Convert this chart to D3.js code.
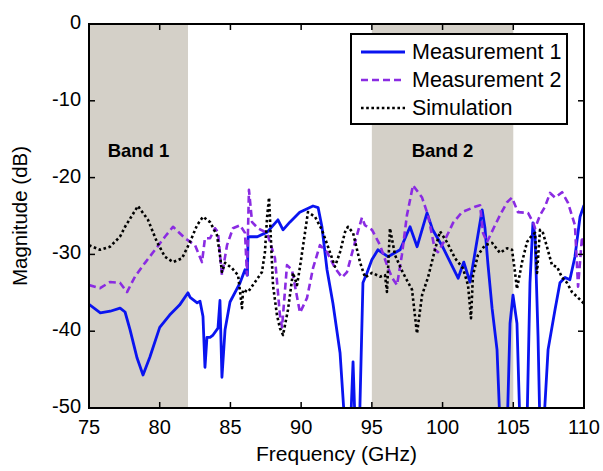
<!DOCTYPE html>
<html>
<head>
<meta charset="utf-8">
<script src="https://cdn.jsdelivr.net/npm/d3@7"></script>
<style>
  body { margin: 0; background: #fff; }
  text { font-family: Arial, "Liberation Sans", sans-serif; fill: #000; }
</style>
</head>
<body>
<div id="chart"><svg></svg></div>
<script>
// x ticks / y ticks
var xTicks = [75, 80, 85, 90, 95, 100, 105, 110];
var yTicks = [0, -10, -20, -30, -40, -50];

// shaded bands (GHz)
var bands = [[75, 82], [95, 105]];
var bandLabels = ['Band 1', 'Band 2'];

var seriesNames = ['Measurement 1', 'Measurement 2', 'Simulation'];

// [GHz, dB]
var measurement1 = [
  [75.0, -36.5], [75.8, -37.6], [76.5, -37.4], [77.2, -37.0], [77.55, -37.5], [77.9, -39.8],
  [78.4, -43.5], [78.82, -45.7], [79.3, -43.4], [80.0, -39.5], [80.7, -37.9], [81.4, -36.6],
  [82.0, -35.0], [82.15, -35.6], [82.65, -36.3], [82.85, -36.1], [83.06, -38.1], [83.2, -44.7],
  [83.34, -40.8], [83.56, -40.8], [83.77, -40.5], [84.12, -39.6], [84.26, -36.0], [84.4, -46.0],
  [84.62, -39.8], [84.97, -36.2], [85.68, -33.7], [86.03, -32.0], [86.2, -32.7], [86.25, -27.7],
  [86.9, -27.7], [87.6, -27.1], [88.36, -25.5], [88.72, -26.8], [89.2, -25.8], [89.9, -24.5],
  [90.84, -23.7], [91.2, -23.9], [91.47, -26.4], [91.83, -32.0], [92.25, -36.4], [92.75, -42.8],
  [93.15, -54], [93.5, -52], [93.67, -44.0], [93.85, -54], [94.1, -54], [94.37, -33.7],
  [94.66, -32.4], [95.0, -30.7], [95.43, -29.4], [96.14, -30.3], [97.0, -29.4], [97.7, -26.4],
  [98.2, -29.0], [98.9, -24.6], [99.3, -26.8], [100.0, -29.0], [101.1, -33.1], [101.5, -31.0],
  [101.94, -33.6], [102.3, -29.7], [102.8, -24.2], [103.0, -26.6], [103.2, -31.1], [103.5, -37.0],
  [103.85, -42.4], [104.1, -54], [104.55, -54], [104.77, -39.0], [104.98, -35.3], [105.26, -39.0],
  [105.5, -54], [105.95, -54], [106.18, -33.7], [106.39, -25.9], [106.54, -27.7], [106.75, -40.7],
  [106.9, -54], [107.1, -54], [107.46, -42.4], [107.95, -37.2], [108.3, -33.7], [108.66, -33.0],
  [109.0, -33.3], [109.36, -30.3], [109.72, -25.1], [110.0, -23.6]
];

var measurement2 = [
  [75.0, -34.0], [75.78, -34.4], [76.48, -33.6], [77.19, -33.7], [77.69, -34.9], [78.25, -32.9],
  [78.96, -31.1], [79.67, -29.4], [80.37, -27.7], [80.94, -26.4], [81.79, -27.9], [82.5, -28.8],
  [82.99, -31.0], [83.2, -27.9], [83.56, -27.9], [83.91, -26.6], [84.12, -27.1], [84.4, -32.7],
  [84.76, -28.8], [85.18, -26.6], [85.68, -26.2], [86.03, -27.2], [86.17, -32.7], [86.31, -21.6],
  [86.53, -25.8], [86.95, -26.6], [87.59, -27.2], [88.15, -30.5], [88.5, -37.9], [88.65, -39.5],
  [89.0, -31.4], [89.35, -32.0], [89.92, -37.6], [90.41, -35.7], [90.84, -31.8], [91.33, -28.8],
  [91.83, -29.7], [92.4, -31.8], [92.89, -33.0], [93.24, -32.3], [93.81, -28.4], [94.3, -25.2],
  [94.51, -26.2], [95.01, -26.8], [95.58, -28.8], [96.07, -31.4], [96.42, -33.0], [96.78, -34.0],
  [97.13, -30.0], [97.48, -24.9], [97.91, -21.0], [98.55, -22.6], [98.97, -24.9], [99.46, -29.4],
  [99.68, -29.7], [100.17, -28.1], [100.74, -25.9], [101.37, -24.5], [102.29, -23.8], [102.65, -23.6],
  [102.86, -27.2], [103.14, -28.4], [103.71, -26.2], [104.06, -24.9], [104.56, -23.2], [104.91, -22.6],
  [105.33, -24.5], [106.04, -24.6], [106.39, -25.8], [106.54, -26.6], [106.89, -24.9], [107.24, -23.8],
  [107.6, -22.0], [107.95, -22.6], [108.45, -21.9], [108.87, -23.3], [109.36, -26.2], [109.58, -34.2],
  [109.86, -27.7], [110.0, -29.0]
];

var simulation = [
  [75.0, -28.8], [75.78, -29.4], [76.48, -29.0], [77.19, -27.7], [77.55, -26.4], [78.46, -23.7],
  [79.17, -25.5], [79.81, -28.4], [80.37, -30.3], [80.94, -31.0], [81.58, -30.5], [82.14, -28.4],
  [82.64, -26.2], [83.06, -25.1], [83.56, -25.8], [84.05, -27.5], [84.26, -30.1], [84.4, -32.3],
  [84.62, -31.1], [85.11, -31.8], [85.54, -32.7], [85.82, -37.0], [85.89, -34.6], [86.24, -34.9],
  [86.74, -33.6], [87.23, -32.3], [87.44, -29.7], [87.59, -25.2], [87.73, -22.6], [87.87, -28.4],
  [88.01, -34.0], [88.29, -37.9], [88.5, -39.6], [88.72, -40.5], [89.07, -37.2], [89.42, -32.4],
  [89.71, -34.0], [89.92, -31.6], [90.27, -27.2], [90.48, -24.5], [90.98, -25.1], [91.47, -26.8],
  [91.9, -29.0], [92.39, -31.6], [92.75, -29.7], [93.1, -27.1], [93.31, -26.4], [93.67, -27.2],
  [94.16, -31.0], [94.52, -33.0], [95.01, -32.4], [95.58, -32.9], [95.93, -32.7], [96.07, -34.9],
  [96.28, -26.6], [96.64, -30.1], [97.2, -32.4], [97.84, -34.6], [98.19, -40.3], [98.55, -35.3],
  [98.97, -33.0], [99.46, -29.4], [99.82, -27.0], [100.31, -28.4], [100.88, -30.5], [101.44, -31.8],
  [101.8, -34.0], [102.01, -38.3], [102.15, -32.7], [102.5, -30.1], [103.0, -28.8], [103.5, -28.5],
  [104.06, -29.8], [104.56, -29.2], [104.91, -29.4], [105.12, -32.3], [105.26, -34.5], [105.62, -31.0],
  [105.97, -28.4], [106.32, -27.5], [106.54, -27.2], [106.68, -32.4], [106.89, -26.8], [107.1, -27.2],
  [107.38, -29.0], [107.74, -31.4], [108.09, -31.6], [108.45, -33.0], [108.8, -33.7], [109.15, -34.9],
  [109.5, -35.5], [110.0, -36.4]
];

/**
 * Constructor
 */
function MagnitudeView(svgid, width, height){
    this.svgId = svgid;
    this.svgWidth = width;
    this.svgHeight = height;
    this.plot = {left: 89, right: 584, top: 24, bottom: 408};
}

MagnitudeView.prototype.init = function(){
    this.svg = d3.select(this.svgId).select('svg')
        .attr('width', this.svgWidth)
        .attr('height', this.svgHeight);

    this.x = d3.scaleLinear().domain([75, 110]).range([this.plot.left, this.plot.right]);
    this.y = d3.scaleLinear().domain([-50, 0]).range([this.plot.bottom, this.plot.top]);

    this.svg.append('clipPath').attr('id', 'plotclip')
        .append('rect')
        .attr('x', this.plot.left).attr('y', this.plot.top)
        .attr('width', this.plot.right - this.plot.left)
        .attr('height', this.plot.bottom - this.plot.top);
};

MagnitudeView.prototype.update = function(){
    var x = this.x, y = this.y, svg = this.svg;

    // grey bands
    svg.append('g').selectAll('rect').data(bands).enter()
        .append('rect')
        .attr('x', function (d) { return x(d[0]); })
        .attr('y', y(0))
        .attr('width', function (d) { return x(d[1]) - x(d[0]); })
        .attr('height', y(-50) - y(0))
        .attr('fill', '#d4d0c8');

    svg.append('g').selectAll('text').data(bandLabels).enter()
        .append('text')
        .attr('x', function (d, i) { return (x(bands[i][0]) + x(bands[i][1])) / 2; })
        .attr('y', y(-17.3))
        .attr('text-anchor', 'middle')
        .style('font-size', '18.5px')
        .style('font-weight', 'bold')
        .text(function (d) { return d; });

    var line = d3.line()
        .x(function (d) { return x(d[0]); })
        .y(function (d) { return y(d[1]); });

    var styles = [
        {data: measurement1, color: '#0a14f0', dash: null, w: 2.8},
        {data: measurement2, color: '#8a2be2', dash: '7,4', w: 2.6},
        {data: simulation, color: '#000', dash: '2.6,2.6', w: 2.6}
    ];

    var lines = svg.append('g').attr('clip-path', 'url(#plotclip)');
    styles.forEach(function (s) {
        lines.append('path')
            .datum(s.data)
            .attr('d', line)
            .attr('fill', 'none')
            .attr('stroke', s.color)
            .attr('stroke-width', s.w)
            .attr('stroke-linejoin', 'round')
            .attr('stroke-dasharray', s.dash);
    });

    // frame + inward ticks on all sides
    var p = this.plot, tl = 6;
    svg.append('rect')
        .attr('x', p.left).attr('y', p.top)
        .attr('width', p.right - p.left).attr('height', p.bottom - p.top)
        .attr('fill', 'none').attr('stroke', '#000').attr('stroke-width', 2);

    var ticks = svg.append('g').attr('stroke', '#000').attr('stroke-width', 1.5);
    xTicks.slice(1, -1).forEach(function (t) {
        ticks.append('line').attr('x1', x(t)).attr('x2', x(t)).attr('y1', p.bottom).attr('y2', p.bottom - tl);
        ticks.append('line').attr('x1', x(t)).attr('x2', x(t)).attr('y1', p.top).attr('y2', p.top + tl);
    });
    yTicks.slice(1, -1).forEach(function (t) {
        ticks.append('line').attr('x1', p.left).attr('x2', p.left + tl).attr('y1', y(t)).attr('y2', y(t));
        ticks.append('line').attr('x1', p.right).attr('x2', p.right - tl).attr('y1', y(t)).attr('y2', y(t));
    });

    svg.append('g').selectAll('text').data(xTicks).enter()
        .append('text')
        .attr('x', function (d) { return x(d); })
        .attr('y', p.bottom + 26)
        .attr('text-anchor', 'middle')
        .style('font-size', '20px')
        .text(function (d) { return d; });

    svg.append('g').selectAll('text').data(yTicks).enter()
        .append('text')
        .attr('x', p.left - 8)
        .attr('y', function (d) { return y(d) + 5; })
        .attr('text-anchor', 'end')
        .style('font-size', '20px')
        .text(function (d) { return d; });

    svg.append('text')
        .attr('x', (p.left + p.right) / 2)
        .attr('y', 461)
        .attr('text-anchor', 'middle')
        .style('font-size', '21px')
        .text('Frequency (GHz)');

    svg.append('text')
        .attr('transform', 'translate(27,' + ((p.top + p.bottom) / 2) + ') rotate(-90)')
        .attr('text-anchor', 'middle')
        .style('font-size', '20.5px')
        .text('Magnitude (dB)');

    // legend
    var lg = svg.append('g');
    lg.append('rect')
        .attr('x', 351).attr('y', 34).attr('width', 216).attr('height', 90)
        .attr('fill', '#fff').attr('stroke', '#000').attr('stroke-width', 2);
    styles.forEach(function (s, i) {
        var ly = 52 + i * 28;
        lg.append('line')
            .attr('x1', 361).attr('x2', 405).attr('y1', ly).attr('y2', ly)
            .attr('stroke', s.color).attr('stroke-width', s.w)
            .attr('stroke-dasharray', s.dash);
        lg.append('text')
            .attr('x', 412).attr('y', ly + 7)
            .style('font-size', '21.5px')
            .text(seriesNames[i]);
    });
};

var view = new MagnitudeView('#chart', 603, 471);
view.init();
view.update();
</script>
</body>
</html>
